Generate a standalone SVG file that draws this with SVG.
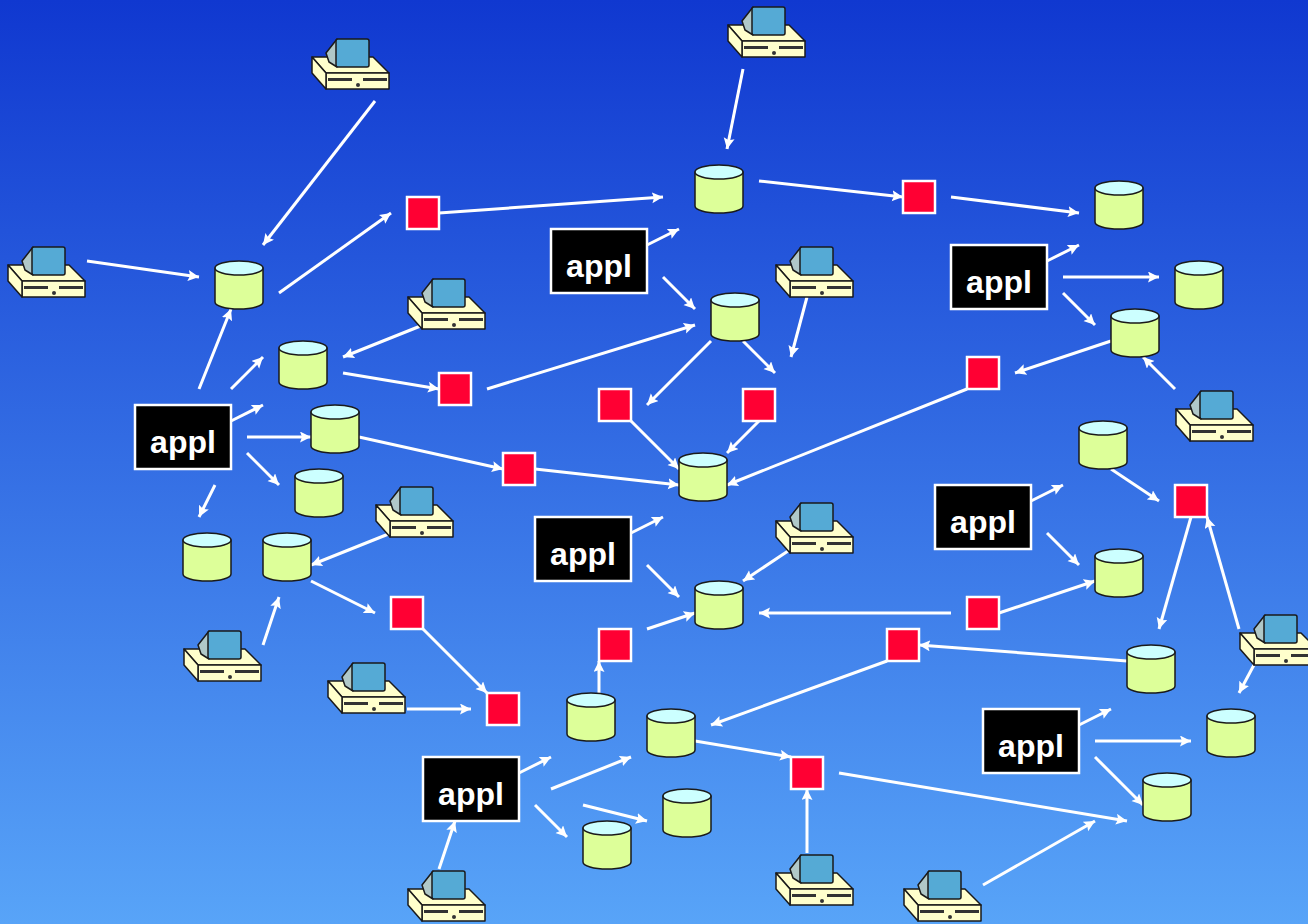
<svg xmlns="http://www.w3.org/2000/svg" xmlns:xlink="http://www.w3.org/1999/xlink" width="1308" height="924" viewBox="0 0 1308 924">
<style>
.ln{stroke:#fff;stroke-width:3;fill:none;marker-end:url(#ah)}
.ol{stroke:#1a1a1a;stroke-width:1.5;stroke-linejoin:round}
.r{fill:#ff0033;stroke:#fff;stroke-width:2.5}
.a{fill:#000;stroke:#fff;stroke-width:2.5}
.t{fill:#fff;font:bold 32px "Liberation Sans",Arial,sans-serif;text-anchor:middle}
</style>
<defs>
<linearGradient id="bg" x1="0" y1="0" x2="0" y2="1"><stop offset="0" stop-color="#1038d0"/><stop offset="1" stop-color="#58a4f8"/></linearGradient>
<marker id="ah" markerUnits="userSpaceOnUse" markerWidth="12" markerHeight="12" refX="11" refY="5.5" orient="auto"><path d="M0 0L11 5.5L0 11L2 5.5Z" fill="#fff"/></marker>
<g id="pc">
<path class="ol" fill="#ffffcc" d="M0 19H61L77 35H14Z"/>
<path class="ol" fill="#ffffcc" d="M14 35H77V51H14Z"/>
<path class="ol" fill="#ffffcc" d="M0 19L14 35V51L0 35Z"/>
<path class="ol" fill="#b0c8c8" d="M25 1L14 15L17 24L25 29Z"/>
<rect class="ol" fill="#55aad5" x="24" y="1" width="33" height="28" rx="2"/>
<rect x="16" y="40" width="24" height="3" fill="#333"/><rect x="51" y="40" width="24" height="3" fill="#333"/>
<circle cx="46" cy="47" r="2" fill="#333"/>
</g>
<g id="cyl">
<path class="ol" fill="#ddff99" d="M0 7V41A24 7 0 0 0 48 41V7Z"/>
<ellipse class="ol" fill="#ccffff" cx="24" cy="7" rx="24" ry="7"/>
</g>
<rect id="sq" class="r" x="-16" y="-16" width="32" height="32"/>
</defs>
<rect id="background" width="1308" height="924" fill="url(#bg)"/>
<g id="connectors">
<path class="ln" d="M375 101L263 245"/><path class="ln" d="M87 261L199 277"/><path class="ln" d="M743 69L727 149"/>
<path class="ln" d="M279 293L391 213"/><path class="ln" d="M439 213L663 197"/><path class="ln" d="M759 181L903 197"/>
<path class="ln" d="M951 197L1079 213"/><path class="ln" d="M647 245L679 229"/><path class="ln" d="M663 277L695 309"/>
<path class="ln" d="M1047 261L1079 245"/><path class="ln" d="M1063 277L1159 277"/><path class="ln" d="M1063 293L1095 325"/>
<path class="ln" d="M807 297L791 357"/><path class="ln" d="M423 325L343 357"/><path class="ln" d="M343 373L439 389"/>
<path class="ln" d="M487 389L695 325"/><path class="ln" d="M711 341L647 405"/><path class="ln" d="M743 341L775 373"/>
<path class="ln" d="M631 421L679 469"/><path class="ln" d="M759 421L727 453"/><path class="ln" d="M1111 341L1015 373"/>
<path class="ln" d="M1175 389L1143 357"/><path class="ln" d="M967 389L727 485"/><path class="ln" d="M199 389L231 309"/>
<path class="ln" d="M231 389L263 357"/><path class="ln" d="M231 421L263 405"/><path class="ln" d="M247 437L311 437"/>
<path class="ln" d="M247 453L279 485"/><path class="ln" d="M215 485L199 517"/><path class="ln" d="M359 437L503 469"/>
<path class="ln" d="M535 469L679 485"/><path class="ln" d="M391 533L311 565"/><path class="ln" d="M311 581L375 613"/>
<path class="ln" d="M423 629L487 693"/><path class="ln" d="M263 645L279 597"/><path class="ln" d="M407 709L471 709"/>
<path class="ln" d="M631 533L663 517"/><path class="ln" d="M647 565L679 597"/><path class="ln" d="M791 549L743 581"/>
<path class="ln" d="M951 613L759 613"/><path class="ln" d="M647 629L695 613"/><path class="ln" d="M599 693L599 661"/>
<path class="ln" d="M1031 501L1063 485"/><path class="ln" d="M1047 533L1079 565"/><path class="ln" d="M1111 469L1159 501"/>
<path class="ln" d="M1191 517L1159 629"/><path class="ln" d="M1239 629L1207 517"/><path class="ln" d="M999 613L1095 581"/>
<path class="ln" d="M1127 661L919 645"/><path class="ln" d="M887 661L711 725"/><path class="ln" d="M695 741L791 757"/>
<path class="ln" d="M807 853L807 789"/><path class="ln" d="M839 773L1127 821"/><path class="ln" d="M983 885L1095 821"/>
<path class="ln" d="M1255 663L1239 693"/><path class="ln" d="M1095 741L1191 741"/><path class="ln" d="M1079 725L1111 709"/>
<path class="ln" d="M1095 757L1143 805"/><path class="ln" d="M519 773L551 757"/><path class="ln" d="M551 789L631 757"/>
<path class="ln" d="M535 805L567 837"/><path class="ln" d="M583 805L647 821"/><path class="ln" d="M439 869L455 821"/>
</g>
<g id="pc1"><use href="#pc" x="312" y="38"/></g><g id="pc2"><use href="#pc" x="728" y="6"/></g><g id="pc3"><use href="#pc" x="8" y="246"/></g>
<g id="pc4"><use href="#pc" x="408" y="278"/></g><g id="pc5"><use href="#pc" x="776" y="246"/></g><g id="pc6"><use href="#pc" x="1176" y="390"/></g>
<g id="pc7"><use href="#pc" x="376" y="486"/></g><g id="pc8"><use href="#pc" x="776" y="502"/></g><g id="pc9"><use href="#pc" x="184" y="630"/></g>
<g id="pc10"><use href="#pc" x="328" y="662"/></g><g id="pc11"><use href="#pc" x="1240" y="614"/></g><g id="pc12"><use href="#pc" x="408" y="870"/></g>
<g id="pc13"><use href="#pc" x="776" y="854"/></g><g id="pc14"><use href="#pc" x="904" y="870"/></g>
<g id="db1"><use href="#cyl" x="215" y="261"/></g><g id="db2"><use href="#cyl" x="279" y="341"/></g><g id="db3"><use href="#cyl" x="311" y="405"/></g>
<g id="db4"><use href="#cyl" x="295" y="469"/></g><g id="db5"><use href="#cyl" x="183" y="533"/></g><g id="db6"><use href="#cyl" x="263" y="533"/></g>
<g id="db7"><use href="#cyl" x="695" y="165"/></g><g id="db8"><use href="#cyl" x="711" y="293"/></g><g id="db9"><use href="#cyl" x="679" y="453"/></g>
<g id="db10"><use href="#cyl" x="695" y="581"/></g><g id="db11"><use href="#cyl" x="1095" y="181"/></g><g id="db12"><use href="#cyl" x="1175" y="261"/></g>
<g id="db13"><use href="#cyl" x="1111" y="309"/></g><g id="db14"><use href="#cyl" x="1079" y="421"/></g><g id="db15"><use href="#cyl" x="1095" y="549"/></g>
<g id="db16"><use href="#cyl" x="1127" y="645"/></g><g id="db17"><use href="#cyl" x="1207" y="709"/></g><g id="db18"><use href="#cyl" x="1143" y="773"/></g>
<g id="db19"><use href="#cyl" x="647" y="709"/></g><g id="db20"><use href="#cyl" x="567" y="693"/></g><g id="db21"><use href="#cyl" x="663" y="789"/></g>
<g id="db22"><use href="#cyl" x="583" y="821"/></g>
<g id="sq1"><use href="#sq" x="423" y="213"/></g><g id="sq2"><use href="#sq" x="919" y="197"/></g><g id="sq3"><use href="#sq" x="455" y="389"/></g>
<g id="sq4"><use href="#sq" x="615" y="405"/></g><g id="sq5"><use href="#sq" x="759" y="405"/></g><g id="sq6"><use href="#sq" x="519" y="469"/></g>
<g id="sq7"><use href="#sq" x="983" y="373"/></g><g id="sq8"><use href="#sq" x="1191" y="501"/></g><g id="sq9"><use href="#sq" x="983" y="613"/></g>
<g id="sq10"><use href="#sq" x="903" y="645"/></g><g id="sq11"><use href="#sq" x="615" y="645"/></g><g id="sq12"><use href="#sq" x="407" y="613"/></g>
<g id="sq13"><use href="#sq" x="503" y="709"/></g><g id="sq14"><use href="#sq" x="807" y="773"/></g>
<g id="appl1"><rect class="a" x="135" y="405" width="96" height="64"/><text class="t" x="183" y="453">appl</text></g>
<g id="appl2"><rect class="a" x="551" y="229" width="96" height="64"/><text class="t" x="599" y="277">appl</text></g>
<g id="appl3"><rect class="a" x="951" y="245" width="96" height="64"/><text class="t" x="999" y="293">appl</text></g>
<g id="appl4"><rect class="a" x="535" y="517" width="96" height="64"/><text class="t" x="583" y="565">appl</text></g>
<g id="appl5"><rect class="a" x="935" y="485" width="96" height="64"/><text class="t" x="983" y="533">appl</text></g>
<g id="appl6"><rect class="a" x="423" y="757" width="96" height="64"/><text class="t" x="471" y="805">appl</text></g>
<g id="appl7"><rect class="a" x="983" y="709" width="96" height="64"/><text class="t" x="1031" y="757">appl</text></g>
</svg>
